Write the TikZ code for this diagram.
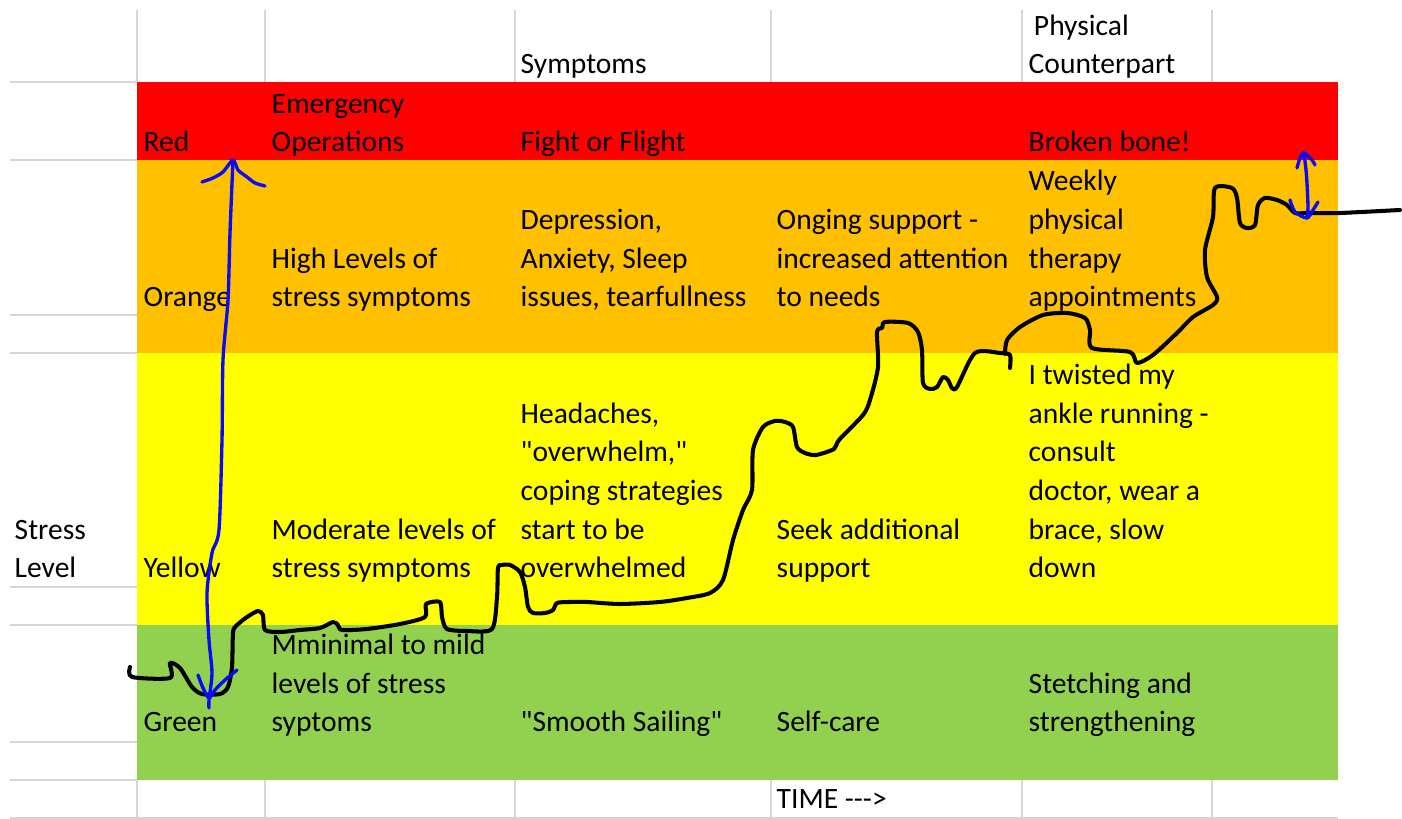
\documentclass[tikz,border=0pt]{standalone}
\usepackage{fontspec}
\setmainfont{Carlito}[Ligatures=TeXOff]
\usetikzlibrary{positioning}
\definecolor{alarm}{HTML}{FF0000}
\definecolor{warn}{HTML}{FFC000}
\definecolor{caution}{HTML}{FFFF00}
\definecolor{calm}{HTML}{92D050}
\definecolor{gridgrey}{HTML}{D6D6D6}
\definecolor{marker}{HTML}{0A0AF5}

\begin{document}
\begin{tikzpicture}[x=0.01cm,y=-0.01cm,font=\fontsize{8.4}{11}\selectfont,cell/.style={anchor=base west,align=left,inner sep=0pt},grid/.style={draw=gridgrey,line width=.35pt},pen/.style={line width=1.15pt,line cap=round,line join=round},ink/.style={draw=marker,line width=.95pt,line cap=round,line join=round}]
\useasboundingbox (0,0) rectangle (1402,819);
% zone bands
\fill[alarm] (137,82) rectangle (1338,160);
\fill[warn] (137,160) rectangle (1338,353);
\fill[caution] (137,353) rectangle (1338,625);
\fill[calm] (137,625) rectangle (1338,780);
% sheet grid outside the bands
\foreach \y in {82,160,315,353,587,625,742,780,818} \draw[grid] (10,\y) -- (137,\y);
\draw[grid] (137,818) -- (1338,818);
\foreach \x in {137,265,515,771,1022,1212} {
  \draw[grid] (\x,10) -- (\x,82);
  \draw[grid] (\x,780) -- (\x,818);
}
% headers (base = last line)
\node[cell] (symhead) at (520,74) {Symptoms};
\node[cell] (physhead) at (1028,74) {\hspace*{1.5pt}Physical\\Counterpart};
% red
\node[cell] (red) at (143,152) {Red};
\node[cell] (redops) at (271,152) {Emergency\\Operations};
\node[cell] (redsym) at (520,152) {Fight or Flight};
\node[cell] (redphys) at (1028,152) {Broken bone!};
% orange
\node[cell] (orange) at (143,307) {Orange};
\node[cell] (oraops) at (271,307) {High Levels of\\stress symptoms};
\node[cell] (orasym) at (520,307) {Depression,\\Anxiety, Sleep\\issues, tearfullness};
\node[cell] (orasup) at (776,307) {Onging support -\\increased attention\\to needs};
\node[cell] (oraphys) at (1028,307) {Weekly\\physical\\therapy\\appointments};
% yellow
\node[cell] (stress) at (14,578) {Stress\\Level};
\node[cell] (yellow) at (143,578) {Yellow};
\node[cell] (yelops) at (271,578) {Moderate levels of\\stress symptoms};
\node[cell] (yelsym) at (520,578) {Headaches,\\"overwhelm,"\\coping strategies\\start to be\\overwhelmed};
\node[cell] (yelsup) at (776,578) {Seek additional\\support};
\node[cell] (yelphys) at (1028,578) {I twisted my\\ankle running -\\consult\\doctor, wear a\\brace, slow\\down};
% green
\node[cell] (green) at (143,732) {Green};
\node[cell] (greops) at (271,732) {Mminimal to mild\\levels of stress\\syptoms};
\node[cell] (gresym) at (520,732) {"Smooth Sailing"};
\node[cell] (gresup) at (776,732) {Self-care};
\node[cell] (grephys) at (1028,732) {Stetching and\\strengthening};
\node[cell] (time) at (776,809) {TIME --->};
% stress curve
\draw[pen] plot[smooth,tension=.45] coordinates {(130,667) (132,677) (170,678) (170,663) (180,668) (192,687) (202,694) (220,694) (228,687) (232,667) (233,633) (236,626) (247,617) (258,611) (263,615) (265,630) (280,632) (300,630) (320,628) (333,622) (338,625) (342,630) (367,629) (400,624) (425,617) (426,604) (440,602) (442,617) (447,629) (467,631) (492,629) (497,597) (498,568) (502,565) (510,565) (520,572) (525,587) (528,607) (533,613) (545,613) (553,610) (557,603) (570,602) (587,602) (620,604) (660,602) (687,598) (710,593) (723,580) (733,540) (743,510) (752,490) (753,450) (763,427) (775,421) (785,422) (793,427) (797,447) (805,453) (816,455) (834,449) (839,440) (863,415) (870,400) (878,367) (877,332) (882,328) (885,322) (908,323) (918,332) (922,350) (923,383) (930,389) (937,387) (943,377) (948,380) (952,388) (957,387) (975,353) (1000,353) (1010,355) (1010,368)};
\draw[pen] plot[smooth,tension=.45] coordinates {(1005,354) (1007,340) (1020,327) (1043,315) (1067,313) (1085,318) (1090,330) (1092,348) (1130,352) (1137,363) (1153,355) (1177,333) (1193,317) (1213,305) (1217,297) (1207,277) (1205,250) (1213,217) (1215,188) (1232,188) (1237,198) (1240,223) (1247,228) (1255,225) (1258,205) (1265,198) (1277,200) (1287,205) (1295,213) (1307,213) (1340,213) (1400,210)};
% range markers
\draw[ink] plot[smooth,tension=.45] coordinates {(233,160) (230,233) (228,300) (223,360) (222,440) (219,530) (212,553) (207,593) (209,640) (212,673) (209,700) (209,708)};
\draw[ink] plot[smooth,tension=.45] coordinates {(202,182) (213,178) (223,172) (233,160) (238,170) (247,177) (255,183) (265,186)};
\draw[ink] plot[smooth,tension=.45] coordinates {(198,675) (203,688) (209,698) (215,690) (225,680) (237,670)};
\draw[ink] plot[smooth,tension=.45] coordinates {(1304,153) (1306,170) (1307,183) (1308,207) (1307,218)};
\draw[ink] plot[smooth,tension=.45] coordinates {(1297,168) (1300,158) (1304,153) (1312,160) (1315,165)};
\draw[ink] plot[smooth,tension=.45] coordinates {(1290,200) (1295,212) (1307,218) (1313,210) (1318,202)};
\end{tikzpicture}
\end{document}
